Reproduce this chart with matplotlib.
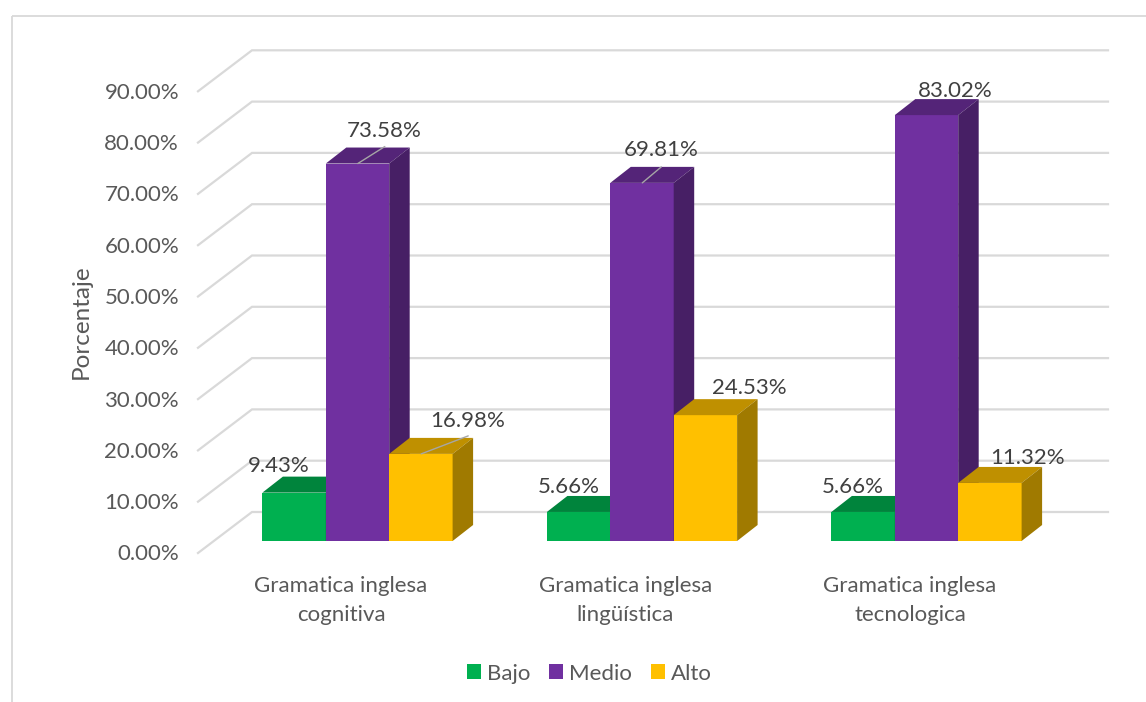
import matplotlib
matplotlib.use('Agg')
import matplotlib.pyplot as plt
from matplotlib.patches import Patch, Polygon, Rectangle

categories = ['Gramatica inglesa\ncognitiva', 'Gramatica inglesa\nlingüística', 'Gramatica inglesa\ntecnologica']
series_names = ['Bajo', 'Medio', 'Alto']
bajo = [9.43, 5.66, 5.66]
medio = [73.58, 69.81, 83.02]
alto = [16.98, 24.53, 11.32]
y_ticks = [0, 10, 20, 30, 40, 50, 60, 70, 80, 90]

series = [bajo, medio, alto]
front_colors = ['#00B050', '#7030A0', '#FFC000']
top_colors = ['#00843C', '#542478', '#BF9000']
side_colors = ['#006A30', '#471F65', '#A07A00']

W, H = 1146, 702
PX_X = 284.5   # pixels per category
PX_Y = 5.13    # pixels per percent
X0 = 357.5     # pixel of first group centre
Y0 = 541       # pixel of the bar bottoms
FONT = 16

plt.rcParams['font.family'] = ['Lato', 'DejaVu Sans']

fig = plt.figure(figsize=(W / 100, H / 100), dpi=100)
ax = fig.add_axes([0, 0, 1, 1])
ax.set_xlim(-X0 / PX_X, (W - X0) / PX_X)
ax.set_ylim(-(H - Y0) / PX_Y, Y0 / PX_Y)
ax.axis('off')

bar_w = 63.4 / PX_X
depth_x = 20.5 / PX_X
depth_y = 16 / PX_Y

# outer frame of the chart area (only top and left show)
frame = Rectangle((11.5 / W, 1 - 15.5 / H), 1.2, -1.2, transform=fig.transFigure,
                  fill=False, edgecolor='#D9D9D9', linewidth=1.3, clip_on=False)
ax.add_patch(frame)

# walls
wall_left = (198 - X0) / PX_X
wall_back = (252 - X0) / PX_X
wall_right = (1108 - X0) / PX_X
for v in y_ticks:
    ax.plot([wall_left, wall_back, wall_right],
            [v - 12 / PX_Y, v + 29 / PX_Y, v + 29 / PX_Y],
            color='#D9D9D9', linewidth=1.6, zorder=1, solid_joinstyle='miter')
    ax.annotate(f'{v:.2f}%', (wall_left, v), xytext=(-19, -13.5), textcoords='offset pixels',
                ha='right', va='center', fontsize=FONT, color='#595959')

# bars with fake 3d faces
for s, values in enumerate(series):
    for i, v in enumerate(values):
        left = i + (s - 1.5) * bar_w
        ax.bar(left, v, bar_w, align='edge', color=front_colors[s], linewidth=0, zorder=3 + s)
        top = [(left, v), (left + depth_x, v + depth_y), (left + bar_w + depth_x, v + depth_y), (left + bar_w, v)]
        side = [(left + bar_w, 0), (left + bar_w + depth_x, depth_y), (left + bar_w + depth_x, v + depth_y), (left + bar_w, v)]
        ax.add_patch(Polygon(top, facecolor=top_colors[s], linewidth=0, zorder=3 + s))
        ax.add_patch(Polygon(side, facecolor=side_colors[s], linewidth=0, zorder=3 + s))

# data labels, offsets in pixels from the front top left corner of each bar
label_offsets = [
    [(16, 27), (58, 33), (78, 33)],
    [(22, 25), (51, 33), (76, 27)],
    [(21, 25), (60, 24), (69, 25)],
]
leaders = {(0, 1): (27, 17), (0, 2): (47, 18), (1, 1): (19, 16)}
for i in range(3):
    for s, values in enumerate(series):
        left = i + (s - 1.5) * bar_w
        v = values[i]
        ox, oy = label_offsets[i][s]
        ax.annotate(f'{v:.2f}%', (left, v), xytext=(ox, oy), textcoords='offset pixels',
                    ha='center', va='center', fontsize=FONT, color='#404040', zorder=10)
        if (i, s) in leaders:
            lx, ly = leaders[(i, s)]
            start = left + 32 / PX_X
            ax.annotate('', (start, v), xytext=(lx, ly), textcoords='offset pixels',
                        xycoords='data', zorder=9,
                        arrowprops=dict(arrowstyle='-', color='#A6A6A6', linewidth=1, shrinkA=0, shrinkB=0))

# category labels
for i, cat in enumerate(categories):
    ax.annotate(cat, (i, 0), xytext=(-16.5, -59.5), textcoords='offset pixels', ha='center', va='center',
                fontsize=FONT, color='#595959', linespacing=1.52)

ax.text((81 - X0) / PX_X, (Y0 - 322) / PX_Y, 'Porcentaje', rotation=90, ha='center', va='center',
        fontsize=17.5, color='#595959')

handles = [Patch(facecolor=c, linewidth=0, label=n) for c, n in zip(front_colors, series_names)]
leg = ax.legend(handles=handles, ncol=3, loc='center', bbox_to_anchor=(589 / W, 1 - 673.5 / H),
                bbox_transform=fig.transFigure, frameon=False, fontsize=FONT, handlelength=0.63,
                handleheight=0.63, handletextpad=0.27, columnspacing=0.85, labelcolor='#595959')

plt.savefig('out.png', dpi=100)
plt.close(fig)
